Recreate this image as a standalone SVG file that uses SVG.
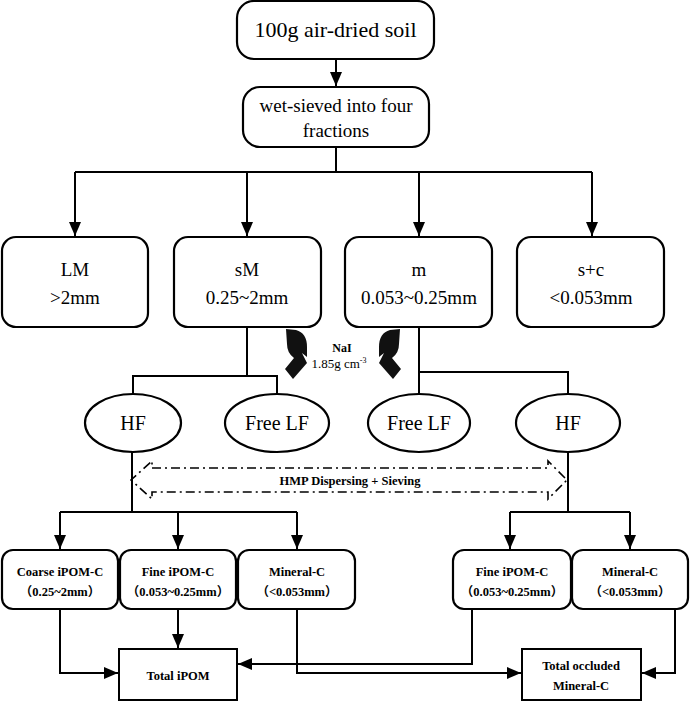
<svg xmlns="http://www.w3.org/2000/svg" width="690" height="701" viewBox="0 0 690 701">
<defs>
<marker id="ah2" viewBox="0 0 14 12" refX="14" refY="6" markerWidth="14" markerHeight="12" markerUnits="userSpaceOnUse" orient="auto">
<path d="M0,0 L14,6 L0,12 Z" fill="#000"/>
</marker>
<path id="nai" d="M286,329 L296,330 Q307,333 307,347 L307,357 L302,353 L307,363 L293,379 L285,369 L294,358 Q287,353 287,344 Z"/>
</defs>
<style>
.box{fill:#fff;stroke:#000;stroke-width:2.2}
.ln{fill:none;stroke:#000;stroke-width:2}
.t{font-family:"Liberation Serif","Times New Roman","Noto Sans CJK SC",serif;fill:#000;text-anchor:middle}
.b{font-weight:bold;font-size:12.5px}
.big{font-size:19px}
</style>
<rect width="690" height="701" fill="#fff"/>
<g id="connectors">
<line class="ln" x1="336" y1="59" x2="336" y2="86" marker-end="url(#ah2)"/>
<polyline class="ln" points="336,147 336,172"/>
<line class="ln" x1="75" y1="172" x2="592" y2="172"/>
<line class="ln" x1="75" y1="172" x2="75" y2="236" marker-end="url(#ah2)"/>
<line class="ln" x1="247" y1="172" x2="247" y2="236" marker-end="url(#ah2)"/>
<line class="ln" x1="419" y1="172" x2="419" y2="236" marker-end="url(#ah2)"/>
<line class="ln" x1="592" y1="172" x2="592" y2="236" marker-end="url(#ah2)"/>
<polyline class="ln" points="247,327 247,376"/>
<polyline class="ln" points="133,393 133,376 277,376 277,393"/>
<polyline class="ln" points="419,327 419,393"/>
<polyline class="ln" points="419,372 568,372 568,394"/>
<polyline class="ln" points="132,452 132,512"/>
<line class="ln" x1="60" y1="512" x2="297" y2="512"/>
<line class="ln" x1="60" y1="512" x2="60" y2="549" marker-end="url(#ah2)"/>
<line class="ln" x1="178" y1="512" x2="178" y2="549" marker-end="url(#ah2)"/>
<line class="ln" x1="297" y1="512" x2="297" y2="549" marker-end="url(#ah2)"/>
<polyline class="ln" points="568,452 568,512"/>
<line class="ln" x1="510" y1="512" x2="630" y2="512"/>
<line class="ln" x1="510" y1="512" x2="510" y2="549" marker-end="url(#ah2)"/>
<line class="ln" x1="630" y1="512" x2="630" y2="549" marker-end="url(#ah2)"/>
<polyline class="ln" points="60,609 60,673 118,673" marker-end="url(#ah2)"/>
<line class="ln" x1="178" y1="609" x2="178" y2="648" marker-end="url(#ah2)"/>
<polyline class="ln" points="297,609 297,673 521,673" marker-end="url(#ah2)"/>
<polyline class="ln" points="472,609 472,664 238,664" marker-end="url(#ah2)"/>
<polyline class="ln" points="675,609 675,673 642,673" marker-end="url(#ah2)"/>
<path d="M152,468 L548,468 L548,461 L567,480 L548,499 L548,492 L152,492 L152,499 L131,480 L152,461 Z" fill="none" stroke="#000" stroke-width="1.6" stroke-dasharray="9,4,2,4"/>
</g>
<g id="nai-arrows">
<use href="#nai" fill="#111"/>
<use href="#nai" fill="#111" transform="translate(686,0) scale(-1,1)"/>
<text class="t" x="342" y="352" font-weight="bold" font-size="12">NaI</text>
<text class="t" x="339" y="368" font-size="13">1.85g cm<tspan dy="-5" font-size="8">-3</tspan></text>
</g>
<g id="hmp">
<text class="t b" x="350" y="485">HMP Dispersing + Sieving</text>
</g>
<g id="n-soil">
<rect class="box" x="237" y="1" width="197" height="58" rx="17"/>
<text class="t" x="335.5" y="37" font-size="22">100g air-dried soil</text>
</g>
<g id="n-wet">
<rect class="box" x="243" y="87" width="186" height="60" rx="17"/>
<text class="t big" x="336" y="112">wet-sieved into four</text>
<text class="t big" x="336" y="137">fractions</text>
</g>
<g id="n-LM">
<rect class="box" x="2" y="237" width="146" height="90" rx="14"/>
<text class="t big" x="75" y="276">LM</text>
<text class="t big" x="75" y="304">&gt;2mm</text>
</g>
<g id="n-sM">
<rect class="box" x="174" y="237" width="147" height="90" rx="14"/>
<text class="t big" x="247" y="276">sM</text>
<text class="t big" x="247" y="304">0.25~2mm</text>
</g>
<g id="n-m">
<rect class="box" x="345" y="237" width="147" height="90" rx="14"/>
<text class="t big" x="419" y="276">m</text>
<text class="t big" x="419" y="304">0.053~0.25mm</text>
</g>
<g id="n-sc">
<rect class="box" x="517" y="237" width="147" height="90" rx="14"/>
<text class="t big" x="591" y="276">s+c</text>
<text class="t big" x="591" y="304">&lt;0.053mm</text>
</g>
<g id="n-HF1">
<ellipse class="box" cx="133" cy="423" rx="48" ry="29"/>
<text class="t" x="133" y="430" font-size="20">HF</text>
</g>
<g id="n-LF1">
<ellipse class="box" cx="277" cy="423" rx="52" ry="29"/>
<text class="t" x="277" y="430" font-size="20">Free LF</text>
</g>
<g id="n-LF2">
<ellipse class="box" cx="419" cy="423" rx="51" ry="29"/>
<text class="t" x="419" y="430" font-size="20">Free LF</text>
</g>
<g id="n-HF2">
<ellipse class="box" cx="568" cy="423" rx="52" ry="29"/>
<text class="t" x="568" y="430" font-size="20">HF</text>
</g>
<g id="n-coarse">
<rect class="box" x="2" y="550" width="116" height="59" rx="11"/>
<text class="t b" x="60" y="576">Coarse iPOM-C</text>
<text class="t b" x="60" y="596">（0.25~2mm）</text>
</g>
<g id="n-fine1">
<rect class="box" x="120" y="550" width="116" height="59" rx="11"/>
<text class="t b" x="178" y="576">Fine iPOM-C</text>
<text class="t b" x="178" y="596">（0.053~0.25mm）</text>
</g>
<g id="n-min1">
<rect class="box" x="238" y="550" width="117" height="59" rx="11"/>
<text class="t b" x="297" y="576">Mineral-C</text>
<text class="t b" x="297" y="596">（&lt;0.053mm）</text>
</g>
<g id="n-fine2">
<rect class="box" x="453" y="550" width="118" height="59" rx="11"/>
<text class="t b" x="512" y="576">Fine iPOM-C</text>
<text class="t b" x="512" y="596">（0.053~0.25mm）</text>
</g>
<g id="n-min2">
<rect class="box" x="572" y="550" width="116" height="59" rx="11"/>
<text class="t b" x="630" y="576">Mineral-C</text>
<text class="t b" x="630" y="596">（&lt;0.053mm）</text>
</g>
<g id="n-totipom">
<rect x="119" y="649" width="118" height="51" fill="#fff" stroke="#000" stroke-width="2"/>
<text class="t b" x="178" y="680">Total iPOM</text>
</g>
<g id="n-totmin">
<rect x="522" y="649" width="119" height="51" fill="#fff" stroke="#000" stroke-width="2"/>
<text class="t b" x="581" y="670">Total occluded</text>
<text class="t b" x="581" y="690">Mineral-C</text>
</g>
</svg>
